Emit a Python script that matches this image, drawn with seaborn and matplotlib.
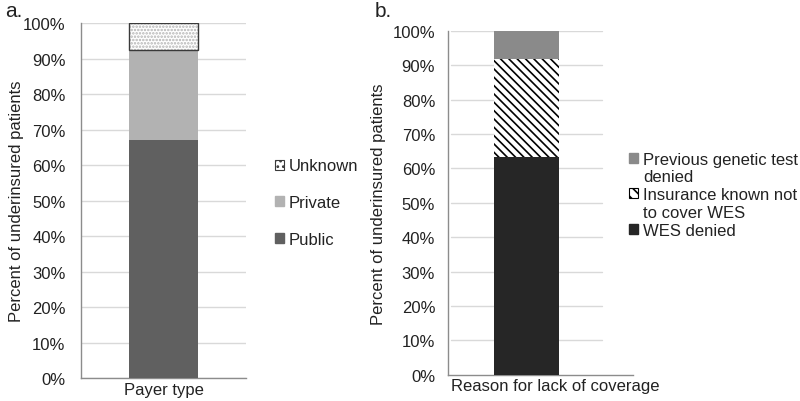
import numpy as np
import pandas as pd
import matplotlib.pyplot as plt
import seaborn as sns
from matplotlib.patches import Patch
from matplotlib.ticker import PercentFormatter

# panel a: payer type (bottom to top)
payer_segments = ["Public", "Private", "Unknown"]
payer_values = [67.1, 25.4, 7.5]
payer_category = "Payer type"

# panel b: reason for lack of coverage (bottom to top)
reason_segments = ["WES denied", "Insurance known not to cover WES", "Previous genetic test denied"]
reason_values = [63.3, 28.6, 8.1]
reason_category = "Reason for lack of coverage"

y_ticks = list(range(0, 101, 10))

sns.set_style("white")
plt.rcParams["font.family"] = ["Liberation Sans", "DejaVu Sans"]
plt.rcParams["hatch.linewidth"] = 1.2

FS = 12
TXT = "#222222"
SPINE = "#8c8c8c"
GRID = "#d9d9d9"

fig = plt.figure(figsize=(8, 4.02), dpi=100)
ax_a = fig.add_axes([0.101, 0.0565, 0.207, 0.8835])
ax_b = fig.add_axes([0.5596, 0.0654, 0.2316, 0.855])


def stacked(ax, category, segments, values, styles, width, xlim):
    df = pd.DataFrame({"cat": [category] * len(segments), "seg": segments, "val": values})
    bottoms = np.concatenate([[0], np.cumsum(values)[:-1]])
    for (_, row), bottom in zip(df.iterrows(), bottoms):
        st = styles[row["seg"]]
        sns.barplot(x=[0], y=[row["val"]], bottom=bottom, ax=ax, width=width,
                    color=st["fc"], edgecolor=st.get("hc", st["fc"]),
                    linewidth=0, hatch=st.get("hatch"),
                    native_scale=True, saturation=1, zorder=3)
        if "border" in st:
            # separate outline so the hatch can stay light
            sns.barplot(x=[0], y=[row["val"]], bottom=bottom, ax=ax, width=width,
                        fill=False, color=st["border"], linewidth=1.0,
                        native_scale=True, saturation=1, zorder=4)
    ax.set_xlim(*xlim)
    ax.set_ylim(0, 100)
    ax.set_yticks(y_ticks)
    ax.yaxis.set_major_formatter(PercentFormatter(decimals=0))
    ax.set_xticks([])
    ax.set_ylabel("Percent of underinsured patients", fontsize=FS, color=TXT)
    ax.set_xlabel(category, fontsize=FS, color=TXT, labelpad=1)
    ax.tick_params(axis="y", length=0, labelsize=FS, labelcolor=TXT)
    for s in ["top", "right"]:
        ax.spines[s].set_visible(False)
    for s in ["left", "bottom"]:
        ax.spines[s].set_color(SPINE)
        ax.spines[s].set_linewidth(1.0)


styles_a = {
    "Public": {"fc": "#606060"},
    "Private": {"fc": "#b2b2b2"},
    "Unknown": {"fc": "white", "hc": "#b4b4b4", "hatch": ".....", "border": "#3a3a3a"},
}
styles_b = {
    "WES denied": {"fc": "#262626"},
    "Insurance known not to cover WES": {"fc": "white", "hc": "black", "hatch": "\\\\\\\\"},
    "Previous genetic test denied": {"fc": "#8a8a8a"},
}

stacked(ax_a, payer_category, payer_segments, payer_values, styles_a, 0.42, (-0.5, 0.5))
stacked(ax_b, reason_category, reason_segments, reason_values, styles_b, 0.351, (-0.427, 0.573))

# gridlines
ax_a.yaxis.grid(True, color=GRID, linewidth=1.0, zorder=0)
ax_a.set_axisbelow(True)
for y in y_ticks[1:]:
    ax_b.axhline(y, xmin=0.02, xmax=0.833, color=GRID, linewidth=1.0, zorder=0)

ax_a.tick_params(axis="y", pad=11)
ax_b.tick_params(axis="y", pad=9)
ax_a.yaxis.set_label_coords(-0.345, 0.5)
ax_b.yaxis.set_label_coords(-0.335, 0.5)
ax_a.xaxis.set_label_coords(0.5, -0.010)
ax_b.xaxis.set_label_coords(0.58, -0.010)
ax_a.xaxis.label.set_va("top")
ax_b.xaxis.label.set_va("top")

# legends
handles_a = [Patch(facecolor="white", edgecolor="#3a3a3a", hatch="...", linewidth=0.8),
             Patch(facecolor="#b2b2b2", edgecolor="#b2b2b2"),
             Patch(facecolor="#606060", edgecolor="#606060")]
labels_a = ["Unknown", "Private", "Public"]
fig.legend(handles_a, labels_a, loc="upper left", bbox_to_anchor=(0.335, 0.62),
           frameon=False, fontsize=FS, handlelength=0.55, handleheight=0.55,
           handletextpad=0.3, labelspacing=1.3, labelcolor=TXT, borderaxespad=0)

blank = Patch(facecolor="none", edgecolor="none")
handles_b = [Patch(facecolor="#8a8a8a", edgecolor="#8a8a8a"), blank,
             Patch(facecolor="white", edgecolor="black", hatch="\\\\\\", linewidth=0.8), blank,
             Patch(facecolor="#262626", edgecolor="#262626")]
labels_b = ["Previous genetic test", "denied", "Insurance known not", "to cover WES", "WES denied"]
fig.legend(handles_b, labels_b, loc="upper left", bbox_to_anchor=(0.778, 0.637),
           frameon=False, fontsize=FS, handlelength=0.55, handleheight=0.55,
           handletextpad=0.3, labelspacing=0.17, labelcolor=TXT, borderaxespad=0)

fig.text(0.006, 0.995, "a.", fontsize=15, color=TXT, va="top", ha="left")
fig.text(0.468, 0.995, "b.", fontsize=15, color=TXT, va="top", ha="left")

fig.savefig("out.png", dpi=100)
